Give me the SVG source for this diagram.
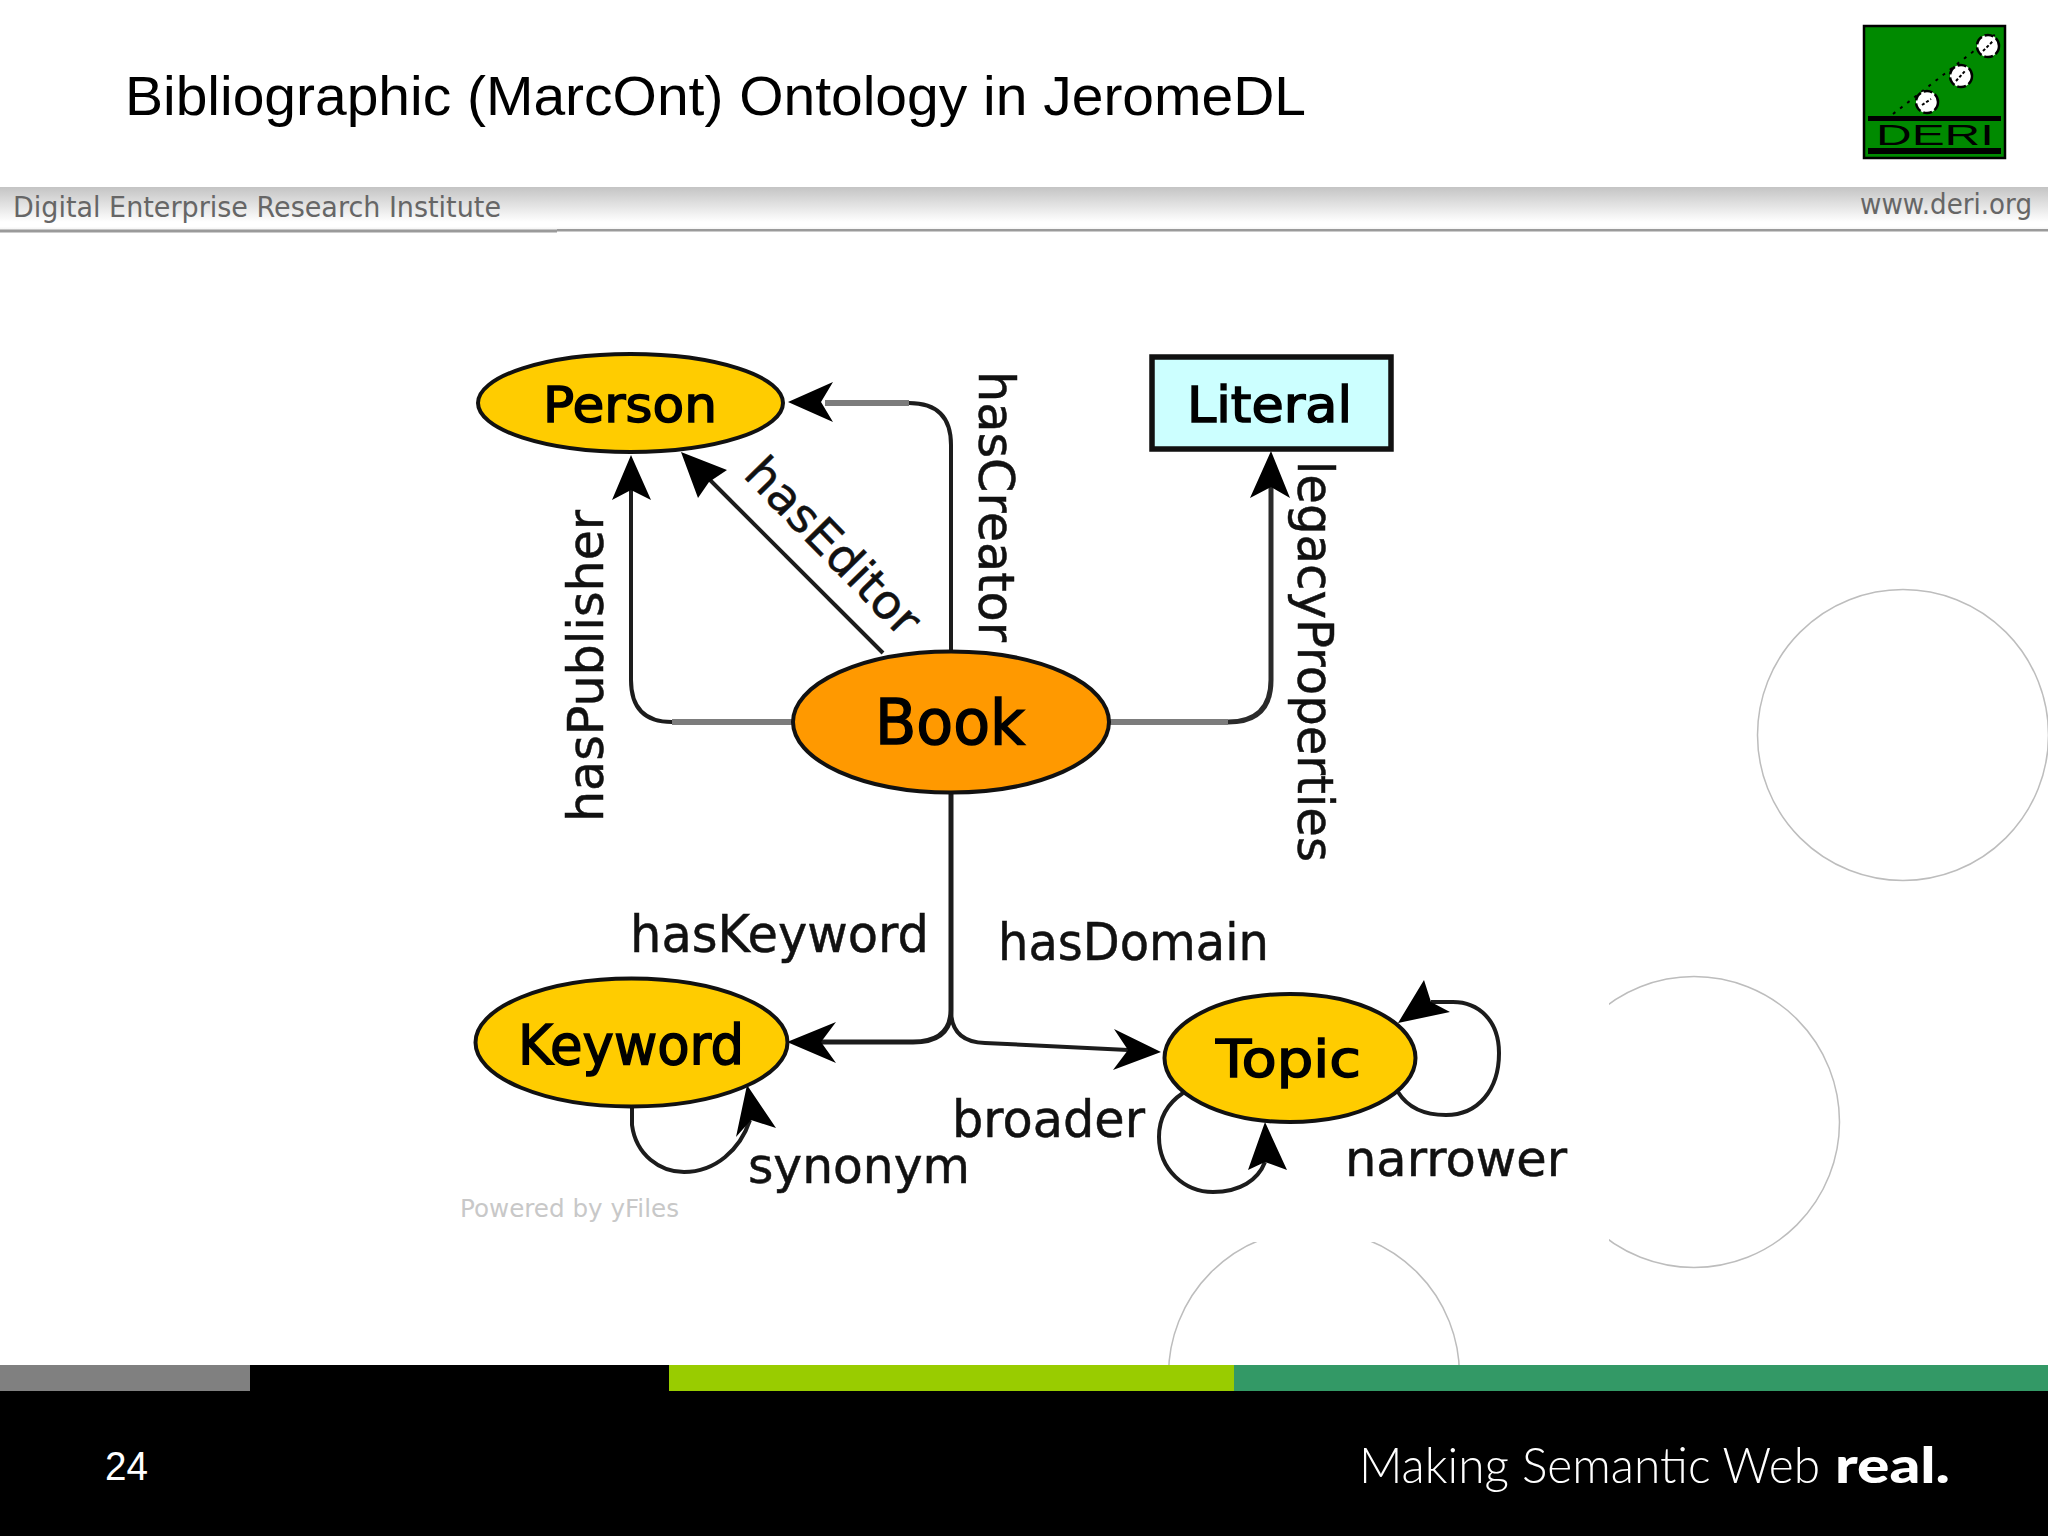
<svg xmlns="http://www.w3.org/2000/svg" width="2048" height="1536" viewBox="0 0 2048 1536">
<defs>
<linearGradient id="band" x1="0" y1="0" x2="0" y2="1"><stop offset="0" stop-color="#c4c4c4"/><stop offset="0.35" stop-color="#dedede"/><stop offset="0.8" stop-color="#ffffff"/><stop offset="0.9" stop-color="#ffffff"/><stop offset="1" stop-color="#ededed"/></linearGradient>
</defs>
<style>
.edge{fill:none;stroke:#1c1c1c;stroke-width:4}
.soft{fill:none;stroke:#7c7c7c;stroke-width:6}
.head{fill:#000;stroke:none}
.node{stroke:#111;stroke-width:4}
.lab{font-family:"DejaVu Sans",sans-serif;fill:#111;stroke:#111;stroke-width:0.5}
.nlab{font-family:"DejaVu Sans",sans-serif;fill:#000;stroke:#000;stroke-width:1.500}
.band{font-family:"DejaVu Sans",sans-serif;fill:#666;font-size:28px}
.deco{fill:none;stroke:#bdbdbd;stroke-width:1.5}
.sans{font-family:"Liberation Sans",Arial,sans-serif}
.tag{font-family:"Lato",sans-serif;fill:#fff;font-size:50px}
</style>
<rect width="2048" height="1536" fill="#fff"/>
<g id="decoration">
<circle class="deco" cx="1903" cy="735" r="145.5"/>
<circle class="deco" cx="1694" cy="1122" r="145.5"/>
<circle class="deco" cx="1314" cy="1375" r="145.5"/>
</g>
<rect x="440" y="300" width="1169" height="942" fill="#fff"/>
<g id="header">
<text class="sans" x="125" y="115" font-size="56" fill="#000" textLength="1181" lengthAdjust="spacingAndGlyphs">Bibliographic (MarcOnt) Ontology in JeromeDL</text>
<rect x="0" y="187" width="2048" height="44" fill="url(#band)"/>
<rect x="0" y="229.500" width="557" height="3" fill="#9a9a9a"/>
<rect x="557" y="229" width="1491" height="2.500" fill="#9a9a9a"/>
<text class="band" x="13" y="217" textLength="488" lengthAdjust="spacingAndGlyphs">Digital Enterprise Research Institute</text>
<text class="band" x="1860" y="214" textLength="172" lengthAdjust="spacingAndGlyphs">www.deri.org</text>
</g>
<g id="logo">
<rect x="1864" y="26" width="141" height="132" fill="#008a00" stroke="#000" stroke-width="2.500"/>
<rect x="1868" y="116" width="133" height="5" fill="#000"/>
<rect x="1868" y="148" width="133" height="6" fill="#000"/>
<path d="M1893 114L1997 33" fill="none" stroke="#000" stroke-width="2" stroke-dasharray="3 6"/>
<g fill="#fff" stroke="#000" stroke-width="2.500" stroke-dasharray="9 3">
<circle cx="1927" cy="102" r="11"/>
<circle cx="1961" cy="76" r="11"/>
<circle cx="1988" cy="46" r="11"/>
</g>
<path d="M1922 105L1931 99M1956 81L1965 71M1983 51L1993 41" stroke="#000" stroke-width="2" stroke-dasharray="3 2" fill="none"/>
<text class="sans" x="1876" y="145" font-size="29" fill="#000" textLength="118" lengthAdjust="spacingAndGlyphs">DERI</text>
</g>
<g id="connectors">
<path class="edge" d="M951 652V445Q951 403 909 403"/>
<path class="soft" d="M909 403H825"/>
<path class="head" d="M788 402L833 382L821 402L833 422Z"/>
<path class="soft" d="M793 722H672"/>
<path class="edge" d="M672 722Q631 722 631 680V490"/>
<path class="head" d="M631 455L651 500L631 490L612 500Z"/>
<path class="edge" d="M883 653L700 470"/>
<path class="head" d="M681 452L727 470L709 482L698 498Z"/>
<path class="soft" d="M1109 722H1228"/>
<path class="edge" style="stroke-width:5;stroke:#2a2a2a" d="M1228 722Q1271 722 1271 680V487"/>
<path class="head" d="M1271 451L1290 498L1271 487L1250 498Z"/>
<path class="edge" style="stroke-width:5" d="M951 793V1010Q951 1042 913 1042H821"/>
<path class="head" d="M787 1042L836 1022L821 1042L836 1063Z"/>
<path class="edge" d="M951 1010Q951 1042 985 1043L1128 1050"/>
<path class="head" d="M1161 1052L1114 1029L1128 1050L1113 1070Z"/>
<path class="edge" d="M632 1107V1125C636 1155 660 1172 684 1172C715 1172 740 1150 750 1120"/>
<path class="head" d="M747 1085L776 1128L751 1120L736 1137Z"/>
<path class="edge" d="M1183 1093C1165 1105 1159 1120 1159 1137C1159 1170 1185 1192 1213 1192C1240 1192 1258 1180 1265 1162"/>
<path class="head" d="M1265 1122L1287 1170L1265 1162L1248 1170Z"/>
<path class="edge" d="M1398 1092C1408 1108 1425 1115 1446 1115C1478 1115 1499 1090 1499 1053C1499 1020 1478 1002 1453 1002H1431"/>
<path class="head" d="M1398 1023L1424 980L1431 1002L1450 1012Z"/>
</g>
<g id="node-person">
<ellipse class="node" cx="630.500" cy="403" rx="152.500" ry="49" fill="#ffcc00"/>
<text class="nlab" x="543" y="422" font-size="50" textLength="174" lengthAdjust="spacingAndGlyphs">Person</text>
</g>
<g id="node-literal">
<rect x="1152" y="357" width="239" height="92" fill="#ccffff" stroke="#111" stroke-width="5.500"/>
<text class="nlab" x="1187" y="422" font-size="50" textLength="165" lengthAdjust="spacingAndGlyphs">Literal</text>
</g>
<g id="node-book">
<ellipse class="node" cx="951" cy="722" rx="158" ry="70.500" fill="#ff9900"/>
<text class="nlab" x="875" y="744" font-size="63" textLength="150" lengthAdjust="spacingAndGlyphs">Book</text>
</g>
<g id="node-keyword">
<ellipse class="node" cx="631.500" cy="1042.500" rx="156" ry="64" fill="#ffcc00"/>
<text class="nlab" x="518" y="1064" font-size="56" textLength="226" lengthAdjust="spacingAndGlyphs">Keyword</text>
</g>
<g id="node-topic">
<ellipse class="node" cx="1290" cy="1058" rx="125.500" ry="64" fill="#ffcc00"/>
<text class="nlab" x="1216" y="1077" font-size="52" textLength="145" lengthAdjust="spacingAndGlyphs">Topic</text>
</g>
<g id="edge-labels">
<text class="lab" font-size="50" transform="translate(603 822) rotate(-90)" textLength="312" lengthAdjust="spacingAndGlyphs">hasPublisher</text>
<text class="lab" font-size="50" transform="translate(979 371) rotate(90)" textLength="271" lengthAdjust="spacingAndGlyphs">hasCreator</text>
<text class="lab" font-size="50" transform="translate(1298 461) rotate(90)" textLength="401" lengthAdjust="spacingAndGlyphs">legacyProperties</text>
<text class="lab" font-size="47" transform="translate(742 476) rotate(45.700)" textLength="228" lengthAdjust="spacingAndGlyphs">hasEditor</text>
<text class="lab" font-size="51" x="630" y="952" textLength="299" lengthAdjust="spacingAndGlyphs">hasKeyword</text>
<text class="lab" font-size="51" x="998" y="960" textLength="271" lengthAdjust="spacingAndGlyphs">hasDomain</text>
<text class="lab" font-size="51" x="952" y="1137" textLength="193" lengthAdjust="spacingAndGlyphs">broader</text>
<text class="lab" font-size="50" x="748" y="1183" textLength="222" lengthAdjust="spacingAndGlyphs">synonym</text>
<text class="lab" font-size="50" x="1345" y="1176" textLength="222" lengthAdjust="spacingAndGlyphs">narrower</text>
<text style="font-family:'DejaVu Sans',sans-serif;fill:#c8c8c8" font-size="24" x="460" y="1217" textLength="219" lengthAdjust="spacingAndGlyphs">Powered by yFiles</text>
</g>
<g id="footer">
<rect x="0" y="1365" width="2048" height="171" fill="#000"/>
<rect x="0" y="1365" width="250" height="26" fill="#808080"/>
<rect x="669" y="1365" width="565" height="26" fill="#99cc00"/>
<rect x="1234" y="1365" width="814" height="26" fill="#339966"/>
<text class="sans" x="105" y="1480" font-size="40" fill="#fff" textLength="43" lengthAdjust="spacingAndGlyphs">24</text>
<text class="tag" x="1359" y="1483" font-weight="300" textLength="461" lengthAdjust="spacingAndGlyphs">Making Semantic Web</text>
<text class="tag" x="1835" y="1483" font-weight="900" textLength="115" lengthAdjust="spacingAndGlyphs">real.</text>
</g>
</svg>
